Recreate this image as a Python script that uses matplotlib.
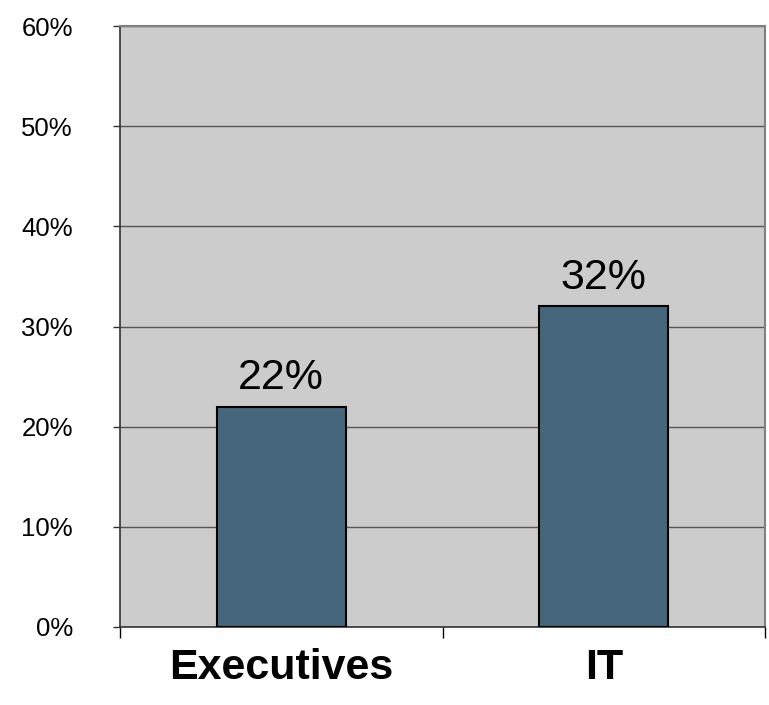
import matplotlib
matplotlib.use("Agg")
import matplotlib.pyplot as plt
from matplotlib.ticker import FixedLocator, NullFormatter

categories = ["Executives", "IT"]
values = [22, 32]
y_ticks = [0, 10, 20, 30, 40, 50, 60]
y_tick_labels = ["0%", "10%", "20%", "30%", "40%", "50%", "60%"]

plt.rcParams["font.family"] = ["Liberation Sans", "DejaVu Sans"]

W, H = 769, 705
fig = plt.figure(figsize=(W / 100, H / 100), dpi=100)
ax = fig.add_axes([120 / W, 1 - 627 / H, (765 - 120) / W, (627 - 26) / H])

ax.set_facecolor("#CCCCCC")
x = list(range(len(categories)))
ax.bar(x, values, width=0.4, color="#46677B", edgecolor="black",
       linewidth=1.5, zorder=3)

ax.set_xlim(-0.5, len(categories) - 0.5)
ax.set_ylim(0, 60)

# horizontal gridlines
ax.yaxis.set_major_locator(FixedLocator(y_ticks))
ax.set_yticklabels(y_tick_labels, fontsize=18.5)
ax.grid(axis="y", color="#555555", linewidth=1.0, zorder=1)

# category boundaries carry the tick marks; labels sit at centres
ax.xaxis.set_major_locator(FixedLocator([i - 0.5 for i in range(len(categories) + 1)]))
ax.xaxis.set_major_formatter(NullFormatter())
ax.xaxis.set_minor_locator(FixedLocator(x))
ax.set_xticklabels(categories, minor=True, fontsize=31, fontweight="bold")
ax.tick_params(axis="x", which="major", direction="out", length=8, width=1, color="black")
ax.tick_params(axis="x", which="minor", length=0, pad=15)
ax.tick_params(axis="y", direction="out", length=5, width=1, color="#333333", pad=29)

for s in ["top", "right"]:
    ax.spines[s].set_color("#808080")
    ax.spines[s].set_linewidth(1.5)
for s in ["left", "bottom"]:
    ax.spines[s].set_color("#333333")
    ax.spines[s].set_linewidth(1.2)

for xi, v in zip(x, values):
    ax.annotate(f"{v}%", (xi, v), xytext=(0, 6), textcoords="offset points",
                ha="center", va="bottom", fontsize=31, zorder=4)

fig.savefig("out.png", dpi=100, facecolor="white")
